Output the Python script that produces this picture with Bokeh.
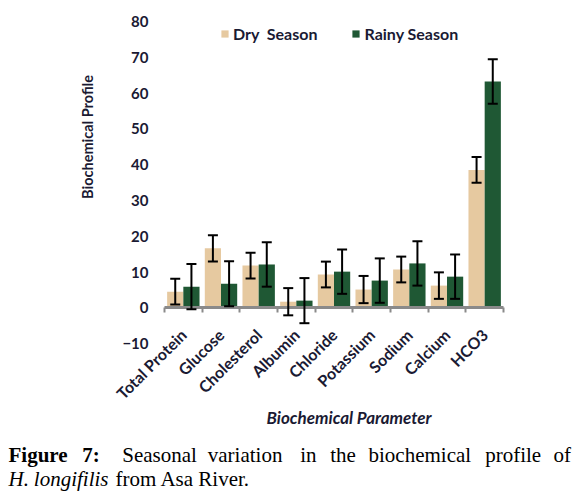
import math
from bokeh.plotting import figure
from bokeh.models import (ColumnDataSource, Whisker, TeeHead, Legend, LegendItem,
                          Label, FixedTicker, Range1d)
from bokeh.embed import file_html
from bokeh.resources import INLINE

# ---------------- data ----------------
categories = ["Total Protein", "Glucose", "Cholesterol", "Albumin", "Chloride",
              "Potassium", "Sodium", "Calcium", "HCO3"]
dry_season = [4.5, 16.6, 11.8, 1.7, 9.3, 5.1, 10.7, 6.2, 38.5]
dry_error = [3.6, 3.7, 3.6, 3.8, 3.6, 3.8, 3.6, 3.7, 3.6]
rainy_season = [5.9, 6.7, 12.1, 2.0, 10.1, 7.6, 12.4, 8.7, 63.2]
rainy_error = [6.3, 6.3, 6.2, 6.3, 6.2, 6.2, 6.2, 6.2, 6.2]
series_names = ["Dry  Season", "Rainy Season"]
y_ticks = [-10, 0, 10, 20, 30, 40, 50, 60, 70, 80]
y_title = "Biochemical Profile"
x_title = "Biochemical Parameter"

# ---------------- style / layout ----------------
FONT = "Lato"
TXT = "#1a1a33"
DRY_COLOR = "#e6c9a0"
RAINY_COLOR = "#1f5834"
AXIS_GRAY = "#8a8a8a"
W, H = 578, 495
PX_PER_CAT = 37.667      # pixels per category slot
LEFT_EDGE_PX = 164       # pixel x of the first category's left edge
PX_PER_UNIT = 3.58       # pixels per y unit
ZERO_PX = 307.3          # pixel y of value 0

n = len(categories)
centers = list(range(n))
bounds_x = [c - 0.5 for c in centers] + [centers[-1] + 0.5]
x_start = -0.5 - LEFT_EDGE_PX / PX_PER_CAT
x_end = x_start + W / PX_PER_CAT
y_end = ZERO_PX / PX_PER_UNIT
y_start = y_end - H / PX_PER_UNIT

BW = 0.43
OFF = 0.215
src = ColumnDataSource(dict(
    xd=[c - OFF for c in centers],
    xr=[c + OFF for c in centers],
    dry=dry_season,
    dry_lo=[v - e for v, e in zip(dry_season, dry_error)],
    dry_hi=[v + e for v, e in zip(dry_season, dry_error)],
    rainy=rainy_season,
    rainy_lo=[v - e for v, e in zip(rainy_season, rainy_error)],
    rainy_hi=[v + e for v, e in zip(rainy_season, rainy_error)],
))

p = figure(x_range=Range1d(x_start, x_end), y_range=Range1d(y_start, y_end),
           width=W, height=H, output_backend="svg", toolbar_location=None,
           min_border_left=0, min_border_right=0, min_border_top=0,
           min_border_bottom=0)
p.outline_line_color = None
p.xgrid.grid_line_color = None
p.ygrid.grid_line_color = None
p.background_fill_color = "white"
p.border_fill_color = "white"

dry_r = p.vbar(x="xd", top="dry", bottom=0, width=BW, source=src,
               fill_color=DRY_COLOR, line_color=None)
rainy_r = p.vbar(x="xr", top="rainy", bottom=0, width=BW, source=src,
                 fill_color=RAINY_COLOR, line_color=None)

# x axis drawn at y = 0
xa = p.xaxis[0]
xa.fixed_location = 0
xa.bounds = (bounds_x[0], bounds_x[-1])
xa.ticker = FixedTicker(ticks=centers, minor_ticks=bounds_x)
xa.major_label_overrides = {c: name for c, name in zip(centers, categories)}
xa.axis_line_color = AXIS_GRAY
xa.axis_line_width = 3
xa.major_tick_line_color = None
xa.major_tick_out = 0
xa.major_tick_in = 0
xa.minor_tick_line_color = AXIS_GRAY
xa.minor_tick_line_width = 2
xa.minor_tick_out = 5
xa.minor_tick_in = 0
xa.major_label_orientation = math.pi / 4
xa.major_label_standoff = 19
xa.major_label_text_font = FONT
xa.major_label_text_font_style = "bold"
xa.major_label_text_font_size = "16px"
xa.major_label_text_color = TXT

for base, lo, hi in [("xd", "dry_lo", "dry_hi"), ("xr", "rainy_lo", "rainy_hi")]:
    w = Whisker(base=base, lower=lo, upper=hi, source=src, line_color="black", line_width=2,
                level="annotation",
                upper_head=TeeHead(size=10, line_width=2, line_color="black"),
                lower_head=TeeHead(size=10, line_width=2, line_color="black"))
    p.add_layout(w)

ya = p.yaxis[0]
ya.fixed_location = bounds_x[0]
ya.bounds = (y_ticks[0], y_ticks[-1])
ya.ticker = FixedTicker(ticks=y_ticks)
ya.axis_line_color = None
ya.major_tick_line_color = None
ya.minor_tick_line_color = None
ya.major_tick_out = 0
ya.major_tick_in = 0
ya.major_label_standoff = 16
ya.major_label_text_font = FONT
ya.major_label_text_font_style = "bold"
ya.major_label_text_font_size = "15px"
ya.major_label_text_color = TXT

legend = Legend(items=[LegendItem(label=series_names[0], renderers=[dry_r]),
                       LegendItem(label=series_names[1], renderers=[rainy_r])],
                location=(220, 452), orientation="horizontal",
                glyph_width=9, glyph_height=9, label_standoff=4, spacing=34,
                padding=0, margin=0, border_line_color=None,
                background_fill_alpha=0, label_text_font=FONT,
                label_text_font_style="bold", label_text_font_size="16px",
                label_text_color=TXT, label_height=16)
p.add_layout(legend)


def fy(page_y):
    return H - page_y


p.add_layout(Label(x=87, y=fy(136.5), x_units="screen", y_units="screen",
                   text=y_title, angle=math.pi / 2, text_align="center",
                   text_baseline="middle", text_font=FONT, text_font_style="bold",
                   text_font_size="14.5px", text_color=TXT))
p.add_layout(Label(x=348.5, y=fy(416.5), x_units="screen", y_units="screen",
                   text=x_title, text_align="center", text_baseline="middle",
                   text_font=FONT, text_font_style="bold italic",
                   text_font_size="17px", text_color=TXT))

# caption
caption_line1 = [("Figure", "bold", 8.0), ("7:", "bold", 81.7), ("Seasonal", "normal", 121.7),
                 ("variation", "normal", 207.3), ("in", "normal", 299.7),
                 ("the", "normal", 329.7), ("biochemical", "normal", 368.0),
                 ("profile", "normal", 484.7), ("of", "normal", 553.0)]
caption_line2 = [("H.", "italic", 8.0), ("longifilis", "italic", 33.3),
                 ("from Asa River.", "normal", 115.0)]
for words, base in [(caption_line1, 454.5), (caption_line2, 478.0)]:
    for t, style, px in words:
        p.add_layout(Label(x=px, y=fy(base), x_units="screen", y_units="screen",
                           text=t, text_align="left", text_baseline="alphabetic",
                           text_font="Liberation Serif", text_font_style=style,
                           text_font_size="21px", text_color="black"))

open("out.html", "w").write(file_html(p, INLINE))
